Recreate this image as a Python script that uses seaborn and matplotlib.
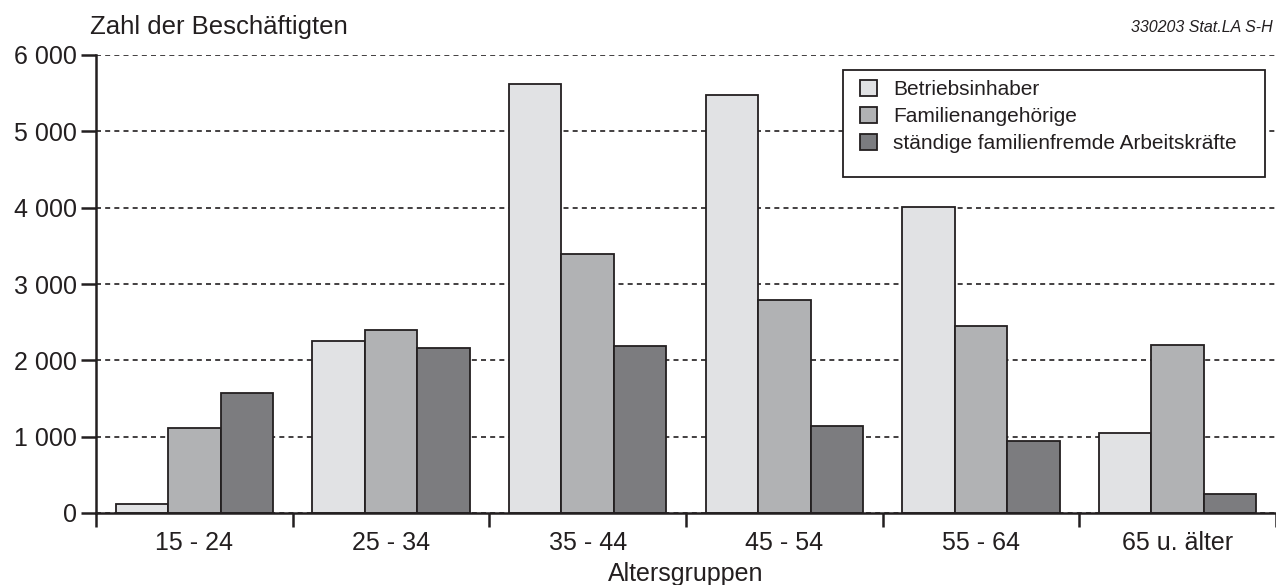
import pandas as pd
import matplotlib
matplotlib.use("Agg")
import matplotlib.pyplot as plt
import matplotlib.ticker as mticker
from matplotlib.patches import Rectangle
import seaborn as sns

altersgruppen = ["15 - 24", "25 - 34", "35 - 44", "45 - 54", "55 - 64", "65 u. älter"]
betriebsinhaber = [112, 2255, 5620, 5475, 4010, 1045]
familienangehoerige = [1115, 2395, 3390, 2790, 2450, 2200]
fremde_arbeitskraefte = [1575, 2160, 2185, 1140, 940, 245]
series_names = ["Betriebsinhaber", "Familienangehörige", "ständige familienfremde Arbeitskräfte"]
colors = ["#e1e2e4", "#b1b2b4", "#7b7c80"]

df = pd.DataFrame({
    "Altersgruppen": altersgruppen * 3,
    "Art": [series_names[0]] * 6 + [series_names[1]] * 6 + [series_names[2]] * 6,
    "Zahl": betriebsinhaber + familienangehoerige + fremde_arbeitskraefte,
})

sns.set_style("white")
plt.rcParams["font.family"] = ["Liberation Sans", "DejaVu Sans"]
ink = "#231f20"

fig = plt.figure(figsize=(12.76, 5.85), dpi=100)
ax = fig.add_axes([96 / 1276, 1 - 513 / 585, 1 - 96 / 1276, (513 - 55) / 585])

sns.barplot(data=df, x="Altersgruppen", y="Zahl", hue="Art", palette=colors,
            edgecolor=ink, linewidth=1.3, width=0.8, ax=ax, legend=False, zorder=3)

ax.set_ylim(0, 6000)
ax.set_xlim(-0.5, 5.5)
ax.yaxis.set_major_locator(mticker.MultipleLocator(1000))
ax.yaxis.set_major_formatter(mticker.FuncFormatter(lambda v, p: f"{int(v):,}".replace(",", " ")))
ax.grid(axis="y", linestyle=(0, (3, 2.5)), color=ink, linewidth=1.2, zorder=0)
ax.set_axisbelow(True)

for s in ["top", "right"]:
    ax.spines[s].set_visible(False)
for s in ["left", "bottom"]:
    ax.spines[s].set_color(ink)
    ax.spines[s].set_linewidth(1.8)
    ax.spines[s].set_zorder(5)

ax.tick_params(axis="y", direction="out", length=11, width=1.8, color=ink,
               labelsize=18, labelcolor=ink, pad=3, left=True)
ax.set_xticks(range(len(altersgruppen)))
ax.set_xticklabels(altersgruppen)
ax.tick_params(axis="x", which="major", length=0, labelsize=18, labelcolor=ink, pad=13)
ax.set_xticks([i - 0.5 for i in range(len(altersgruppen) + 1)], minor=True)
ax.tick_params(axis="x", which="minor", direction="out", length=10, width=1.8,
               color=ink, bottom=True)

ax.set_xlabel("Altersgruppen", fontsize=18, color=ink, labelpad=5)
ax.set_ylabel("")

fig.text(90 / 1276, 1 - 27 / 585, "Zahl der Beschäftigten", fontsize=18.5,
         color=ink, va="center", ha="left")
fig.text(1273 / 1276, 1 - 28 / 585, "330203 Stat.LA S-H", fontsize=11.5,
         style="italic", color=ink, va="center", ha="right")

# legend frame
fig.patches.append(Rectangle((843 / 1276, 1 - 177 / 585), 422 / 1276, 107 / 585,
                             transform=fig.transFigure, facecolor="white",
                             edgecolor=ink, linewidth=1.3, zorder=10))
handles = [Rectangle((0, 0), 1, 1, facecolor=c, edgecolor=ink, linewidth=1.3) for c in colors]
leg = fig.legend(handles, series_names, loc="upper left",
                 bbox_to_anchor=(860 / 1276, 1 - 80 / 585), frameon=False,
                 fontsize=15, handlelength=0.8, handleheight=0.8,
                 handletextpad=0.8, labelspacing=0.38, borderaxespad=0,
                 borderpad=0)
leg.set_zorder(11)
for t in leg.get_texts():
    t.set_color(ink)

fig.savefig("out.png", dpi=100)
